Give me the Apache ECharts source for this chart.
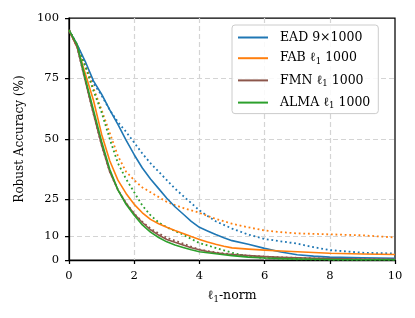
<!DOCTYPE html>
<html>
<head>
<meta charset="utf-8">
<script src="https://cdn.jsdelivr.net/npm/echarts@6/dist/echarts.min.js"></script>
<style>html,body{margin:0;padding:0;background:#fff;}#c{width:415px;height:318px;}</style>
</head>
<body>
<div id="c"></div>
<script>
const normGrid  = [0,0.25,0.5,0.75,1,1.25,1.5,1.75,2,2.25,2.5,2.75,3,3.25,3.5,3.75,4,4.25,4.5,4.75,5,5.5,6,6.5,7,7.5,8,9,10];
const eadSolid  = [95,89,82,74,68.5,62,56,49.5,43.5,38,33.5,29.5,25.5,22,19,16,13.5,12,10.5,9.2,8,6.5,4.8,3.3,2.2,1.6,1.2,0.9,0.7];
const eadDotted = [95,89,80,73,68,62,57,53,48.5,44,40,36.5,33,29.5,26.5,23.5,20.5,18.2,16,14.5,13,10.5,8.7,7.7,6.8,5.3,4.1,3,2.7];
const fabSolid  = [95,88,77,66,52,41,33,27.5,23,19.5,16.8,15,13.5,12.2,11,9.7,8.5,7.4,6.5,5.7,5,4.5,4.1,3.7,3.4,3.1,2.8,2.5,2.3];
const fabDotted = [95,89,81,71,62,52.5,43,36.5,33,30,28,26,24,22.7,21.5,20.5,19.5,18.2,17,16,15,13.5,12.2,11.5,11,10.8,10.6,10.2,9.3];
const fmnSolid  = [95,88,74,60.5,47.5,36.5,29,23.5,19,15.5,12.5,10.3,8.5,7.3,6.2,5.1,4.2,3.5,3,2.6,2.3,1.8,1.4,1.1,0.9,0.7,0.6,0.4,0.3];
const fmnDotted = [95,88,74,60.5,47.5,36.5,29,23.5,19.2,15.8,13,11,9.2,8,6.8,5.5,4.4,3.7,3.1,2.7,2.3,1.8,1.4,1.1,0.9,0.7,0.6,0.4,0.3];
const almaSolid = [95,89,75,62,49,37.5,29,23,18.5,14.5,11.5,9.3,7.5,6.2,5.2,4.2,3.4,3,2.6,2.2,1.8,1.2,0.8,0.6,0.4,0.3,0.2,0.1,0.1];
const almaDotted= [95,89,80,70,61,50,40,33.5,28,22.5,18.5,15.5,13.5,12,10.5,8.7,7,6,5,4,3,1.5,0.8,0.5,0.3,0.2,0.1,0.1,0.1];
const yTicks = [0,10,25,50,75,100];
const legendNames = ['EAD 9×1000','FAB ℓ1 1000','FMN ℓ1 1000','ALMA ℓ1 1000'];
const colors = ['#1f77b4','#ff7f0e','#8c564b','#2ca02c'];

const FONT = 'DejaVu Serif';
function pairs(ys){ return normGrid.map((x,i)=>[x,ys[i]]); }
function mk(name, ys, color, dotted){
  return {
    name, type:'line', data:pairs(ys), showSymbol:false, symbol:'none', animation:false,
    lineStyle:{color, width: dotted ? 1.8 : 1.6, type: dotted ? [1.8,2.8] : 'solid', cap:'butt', join:'round'},
    itemStyle:{color}, z: dotted ? 2 : 3
  };
}
const series = [
  mk('d0', eadDotted, colors[0], true),
  mk('d1', fabDotted, colors[1], true),
  mk('d2', fmnDotted, colors[2], true),
  mk('d3', almaDotted, colors[3], true),
  mk(legendNames[0], eadSolid, colors[0], false),
  mk(legendNames[1], fabSolid, colors[1], false),
  mk(legendNames[2], fmnSolid, colors[2], false),
  mk(legendNames[3], almaSolid, colors[3], false)
];
const chart = echarts.init(document.getElementById('c'), null, {renderer:'canvas'});
chart.setOption({
  animation:false,
  backgroundColor:'#fff',
  grid:{left:69, right:20, top:18, bottom:58, show:true, borderColor:'#000', borderWidth:1.25, backgroundColor:'transparent'},
  xAxis:{
    type:'value', min:0, max:10, interval:2,
    name:'{a|ℓ}{s|1}{a|-norm}', nameLocation:'middle', nameGap:28,
    nameTextStyle:{rich:{a:{fontFamily:FONT,fontSize:12.5,color:'#000'},s:{fontFamily:FONT,fontSize:8.5,color:'#000',padding:[7,0,0,0]}}},
    axisLine:{lineStyle:{color:'#000',width:1.25}},
    axisTick:{show:true,length:4,lineStyle:{color:'#000',width:1.25}},
    axisLabel:{color:'#000',fontFamily:FONT,fontSize:11.5,margin:10},
    splitLine:{show:true,showMinLine:false,showMaxLine:false,lineStyle:{color:'#d4d4d4',width:1.2,type:[5,3]}}
  },
  yAxis:{
    type:'value', min:0, max:100,
    name:'Robust Accuracy (%)', nameLocation:'middle', nameGap:41,
    nameTextStyle:{fontFamily:FONT,fontSize:12,color:'#000'},
    axisLine:{show:true,lineStyle:{color:'#000',width:1.25}},
    axisTick:{show:true,length:4,lineStyle:{color:'#000',width:1.25},customValues:yTicks},
    axisLabel:{color:'#000',fontFamily:FONT,fontSize:11.5,margin:10,customValues:yTicks},
    splitLine:{show:true,showMinLine:false,showMaxLine:false,lineStyle:{color:'#d4d4d4',width:1.2,type:[5,3]}}
  },
  legend:{
    data:legendNames.map(n=>({name:n})),
    orient:'vertical', left:232, top:25,
    icon:'rect', itemWidth:30, itemHeight:2, itemGap:7.7,
    backgroundColor:'rgba(255,255,255,0.85)', borderColor:'#cccccc', borderWidth:1, borderRadius:3,
    padding:[6,8,3,6],
    formatter:function(n){
      const m = n.match(/^(\S+) ℓ1 (\d+)$/);
      if(m) return '{a|'+m[1]+' ℓ}{s|1}{a| '+m[2]+'}';
      return '{a|'+n+'}';
    },
    textStyle:{padding:[0,0,0,7],rich:{a:{fontFamily:FONT,fontSize:12.5,color:'#000',lineHeight:14},s:{fontFamily:FONT,fontSize:8.5,color:'#000',padding:[7,0,0,0]}}}
  },
  series
});
</script>
</body>
</html>
